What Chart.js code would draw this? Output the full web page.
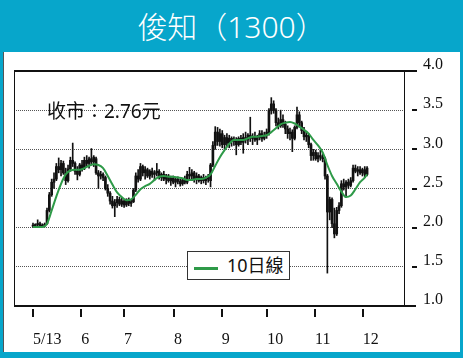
<!DOCTYPE html>
<html><head><meta charset="utf-8">
<script src="https://cdn.jsdelivr.net/npm/chart.js@4.4.0/dist/chart.umd.min.js"></script>
<style>
html,body{margin:0;padding:0;}
body{width:463px;height:358px;background:#07a6cb;position:relative;overflow:hidden;font-family:"Noto Sans","Noto Sans CJK TC","Noto Sans CJK SC","Liberation Sans",sans-serif;}
#title{position:absolute;left:0;top:0;width:463px;height:52px;line-height:54px;text-align:center;color:#fff;font-size:30px;font-weight:300;}
#panel{position:absolute;left:3px;top:52px;width:457px;height:300px;background:#fff;border-left:1px solid #555;box-sizing:border-box;}
#c{position:absolute;left:0;top:0;}
#note{position:absolute;left:47px;top:98px;font-size:19px;line-height:26px;color:#111;white-space:nowrap;}
#legend{position:absolute;left:187px;top:251px;width:103px;height:29px;border:1px solid #333;background:#fff;box-sizing:border-box;}
#legend .ln{position:absolute;left:6px;top:15px;width:24px;height:3px;background:#2e9a48;}
#legend .tx{position:absolute;left:39px;top:1px;font-size:18px;line-height:24px;color:#111;white-space:nowrap;}
</style>
</head><body>
<div id="title">俊知（1300）</div>
<div id="panel"></div>
<canvas id="c" width="463" height="358"></canvas>
<div id="note">收市：2.76元</div>
<div id="legend"><div class="ln"></div><div class="tx">10日線</div></div>
<script>
const tickPos = [0, 20.7, 39, 60.4, 80.8, 100.3, 120.7, 141.1];
const tickLabels = ['5/13','6','7','8','9','10','11','12'];
const yTicks = [1.0, 1.5, 2.0, 2.5, 3.0, 3.5, 4.0];

const openP = [2.03,2.02,2.04,2.05,2.02,2.03,2.05,2.22,2.42,2.58,2.62,2.78,2.74,2.82,2.70,2.60,2.75,2.86,2.82,2.72,
2.68,2.80,2.76,2.86,2.82,2.88,2.84,2.88,2.70,2.66,2.68,2.64,2.50,2.44,2.34,2.28,2.32,2.36,2.30,2.34,
2.29,2.35,2.31,2.33,2.48,2.66,2.62,2.78,2.70,2.74,2.66,2.72,2.68,2.70,2.72,2.64,2.68,2.62,2.66,2.60,
2.63,2.58,2.62,2.59,2.56,2.61,2.58,2.68,2.66,2.70,2.62,2.66,2.60,2.64,2.60,2.62,2.60,2.80,3.05,3.22,
3.10,3.20,3.06,3.15,3.08,3.14,3.10,3.12,3.06,3.14,3.09,3.15,3.12,3.18,3.14,3.16,3.12,3.15,3.20,3.14,
3.18,3.20,3.50,3.58,3.50,3.34,3.30,3.38,3.32,3.26,3.20,3.22,3.14,3.28,3.44,3.34,3.24,3.16,3.18,3.06,
2.92,2.96,2.88,2.92,2.90,2.88,2.66,2.20,2.36,2.05,1.92,2.22,2.28,2.56,2.52,2.58,2.54,2.60,2.76,2.72,
2.74,2.70,2.74,2.68];
const highP = [2.06,2.05,2.10,2.07,2.05,2.06,2.25,2.45,2.62,2.70,2.82,2.89,2.86,2.85,2.76,2.80,2.90,3.08,2.84,2.78,
2.82,2.86,2.90,2.92,2.90,3.01,2.92,2.90,2.73,2.72,2.70,2.66,2.55,2.46,2.40,2.36,2.40,2.39,2.38,2.36,
2.37,2.38,2.36,2.50,2.70,2.74,2.82,2.80,2.78,2.76,2.74,2.76,2.73,2.82,2.74,2.70,2.72,2.68,2.68,2.66,
2.66,2.64,2.65,2.62,2.63,2.66,2.72,2.77,2.74,2.72,2.70,2.68,2.66,2.68,2.66,2.68,2.82,3.10,3.29,3.28,
3.26,3.24,3.18,3.20,3.18,3.16,3.16,3.15,3.16,3.18,3.20,3.22,3.20,3.41,3.20,3.22,3.18,3.24,3.24,3.22,
3.26,3.52,3.66,3.62,3.52,3.40,3.50,3.44,3.36,3.30,3.27,3.25,3.30,3.54,3.48,3.36,3.28,3.22,3.20,3.08,
3.00,2.99,2.96,2.99,2.94,2.90,2.68,2.39,2.38,2.25,2.26,2.32,2.60,2.62,2.60,2.62,2.64,2.80,2.80,2.78,
2.78,2.76,2.78,2.78];
const lowP = [2.01,2.00,2.02,2.01,2.00,2.01,2.04,2.20,2.40,2.50,2.60,2.70,2.66,2.68,2.55,2.58,2.72,2.78,2.68,2.61,
2.66,2.72,2.74,2.78,2.76,2.80,2.78,2.68,2.50,2.62,2.60,2.48,2.40,2.30,2.25,2.14,2.26,2.28,2.27,2.26,
2.27,2.28,2.27,2.32,2.46,2.58,2.60,2.66,2.62,2.64,2.62,2.64,2.60,2.66,2.62,2.60,2.60,2.56,2.58,2.54,
2.56,2.52,2.56,2.53,2.54,2.56,2.56,2.62,2.60,2.58,2.56,2.58,2.56,2.57,2.55,2.58,2.52,2.78,3.00,3.05,
3.04,3.02,3.00,3.04,3.02,3.04,3.05,2.93,3.04,3.06,2.95,3.08,3.06,3.10,3.06,3.10,3.06,3.12,3.10,3.12,
3.14,3.18,3.45,3.46,3.30,3.26,3.28,3.28,3.20,3.14,3.12,2.97,3.12,3.26,3.30,3.20,3.12,3.10,3.02,2.86,
2.86,2.86,2.84,2.86,2.84,2.62,1.42,2.10,2.00,1.87,1.90,2.18,2.26,2.48,2.39,2.50,2.52,2.58,2.70,2.66,
2.68,2.66,2.64,2.66];
const closeP = [2.02,2.04,2.05,2.02,2.03,2.04,2.22,2.42,2.58,2.62,2.78,2.74,2.82,2.70,2.60,2.75,2.86,2.82,2.72,2.68,
2.80,2.76,2.86,2.82,2.88,2.84,2.90,2.70,2.66,2.68,2.64,2.50,2.44,2.34,2.28,2.32,2.36,2.30,2.34,2.29,
2.35,2.31,2.33,2.48,2.66,2.62,2.78,2.70,2.74,2.66,2.72,2.68,2.70,2.72,2.64,2.68,2.62,2.66,2.60,2.63,
2.58,2.62,2.59,2.56,2.61,2.58,2.68,2.66,2.70,2.62,2.66,2.60,2.64,2.60,2.62,2.64,2.80,3.05,3.22,3.10,
3.20,3.06,3.15,3.08,3.14,3.10,3.12,3.06,3.14,3.09,3.15,3.12,3.18,3.14,3.16,3.12,3.15,3.20,3.14,3.18,
3.22,3.50,3.58,3.50,3.34,3.30,3.38,3.32,3.26,3.20,3.22,3.14,3.28,3.44,3.34,3.24,3.16,3.18,3.06,2.92,
2.96,2.88,2.92,2.90,2.88,2.66,2.20,2.36,2.05,1.92,2.22,2.28,2.56,2.52,2.58,2.54,2.60,2.76,2.72,2.74,
2.70,2.74,2.68,2.76];

const maIdx = [0,4,6,8,10,12,14,16,18,20,22,24,26,28,30,32,34,36,38,40,42,44,46,48,50,52,54,56,58,60,
62,64,66,68,70,72,74,76,78,80,82,84,86,88,90,92,94,96,98,100,102,104,106,108,110,112,114,116,118,120,
122,124,126,128,130,132,134,136,138,140,142,143];
const maVal = [2.01,2.01,2.05,2.22,2.40,2.56,2.68,2.73,2.74,2.74,2.76,2.79,2.81,2.80,2.76,2.66,2.55,2.45,2.39,2.35,
2.36,2.42,2.49,2.53,2.56,2.61,2.65,2.66,2.65,2.65,2.64,2.63,2.61,2.61,2.62,2.62,2.64,2.68,2.79,2.90,
2.99,3.07,3.12,3.12,3.12,3.14,3.16,3.16,3.17,3.18,3.22,3.27,3.32,3.34,3.35,3.33,3.29,3.25,3.20,3.12,
3.05,2.96,2.80,2.66,2.56,2.46,2.39,2.41,2.49,2.58,2.64,2.68];

const wickData = closeP.map((c, i) => ({x: i, y: [lowP[i], highP[i]]}));
const bodyData = closeP.map((c, i) => ({x: i, y: [openP[i], c]}));
const maData = maIdx.map((x, k) => ({x: x, y: maVal[k]}));

const framePlugin = {
  id: 'frame',
  afterDraw(chart) {
    const {ctx, chartArea: a, scales: {x, y}} = chart;
    ctx.save();
    ctx.strokeStyle = '#111';
    const line = (x1, y1, x2, y2, w) => { ctx.lineWidth = w; ctx.beginPath(); ctx.moveTo(x1, y1); ctx.lineTo(x2, y2); ctx.stroke(); };
    line(a.left + 0.5, a.top, a.left + 0.5, a.bottom, 1);
    line(a.right + 0.5, a.top, a.right + 0.5, a.bottom, 1);
    line(a.left, a.top, a.right + 13, a.top, 2);
    line(a.left, a.bottom, a.right + 12, a.bottom, 2);
    y.ticks.forEach(t => {
      if (t.value === 1 || t.value === 4) return;
      const py = Math.round(y.getPixelForValue(t.value));
      line(a.right + 8, py, a.right + 13, py, 2);
    });
    x.ticks.forEach(t => {
      const px = Math.round(x.getPixelForValue(t.value));
      line(px, a.bottom + 3, px, a.bottom + 11, 2);
    });
    ctx.restore();
  }
};

new Chart(document.getElementById('c'), {
  type: 'bar',
  data: {
    datasets: [
      {type: 'line', label: '10日線', data: maData, borderColor: '#2e9a48', borderWidth: 2, pointRadius: 0, cubicInterpolationMode: 'monotone', fill: false},
      {type: 'bar', label: 'body', data: bodyData, backgroundColor: '#111', barThickness: 2, minBarLength: 1, grouped: false},
      {type: 'bar', label: 'wick', data: wickData, backgroundColor: '#111', barThickness: 1, grouped: false}
    ]
  },
  options: {
    responsive: false,
    animation: false,
    events: [],
    layout: {padding: {left: 14, top: 71, right: 0, bottom: 0}},
    plugins: {legend: {display: false}, tooltip: {enabled: false}, title: {display: false}},
    scales: {
      x: {
        type: 'linear', min: -8.13, max: 158.8, offset: false,
        grid: {display: false, drawTicks: false},
        border: {display: false},
        afterBuildTicks: s => { s.ticks = tickPos.map(v => ({value: v})); },
        afterFit: s => { s.height = 52; },
        ticks: {autoSkip: false, maxRotation: 0, minRotation: 0, align: 'start', padding: 24,
          font: {family: 'Liberation Serif', size: 16}, color: '#111',
          callback: (v, i) => tickLabels[i]}
      },
      y: {
        type: 'linear', position: 'right', min: 1, max: 4,
        afterBuildTicks: s => { s.ticks = yTicks.map(v => ({value: v})); },
        afterFit: s => { s.width = 59; },
        grid: {drawTicks: false, lineWidth: 1,
          color: ctx => (ctx.tick && (ctx.tick.value === 1 || ctx.tick.value === 4)) ? 'rgba(0,0,0,0)' : '#555'},
        border: {display: false, dash: [1, 1]},
        ticks: {padding: 19, labelOffset: -6, font: {family: 'Liberation Serif', size: 16}, color: '#111',
          callback: v => v.toFixed(1)}
      }
    }
  },
  plugins: [framePlugin]
});
</script>
</body></html>
